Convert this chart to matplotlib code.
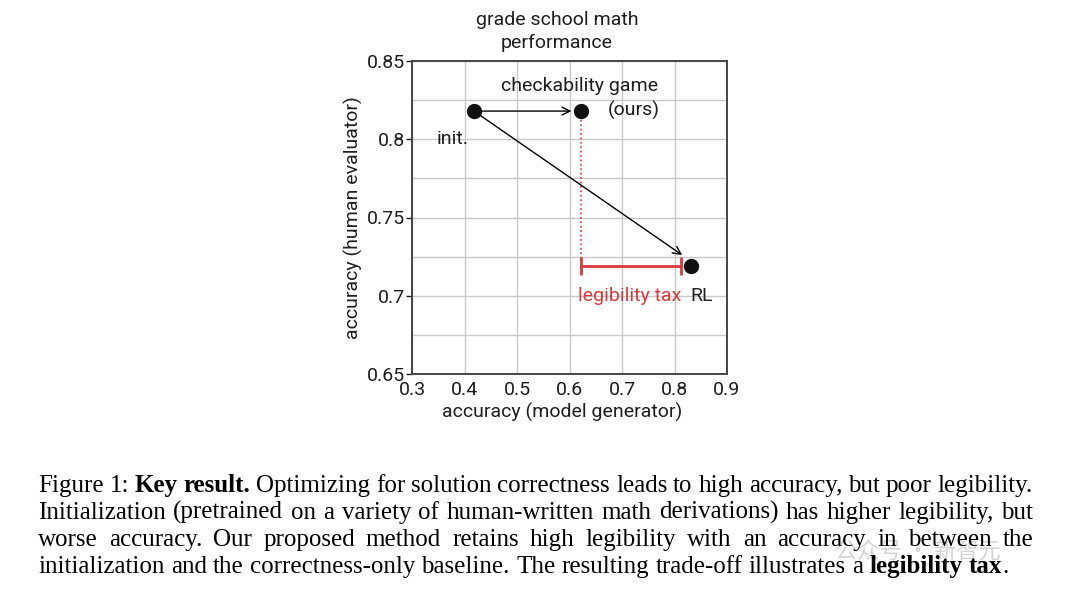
from matplotlib import pyplot as plt
import numpy as np

# points
names = ['init.', 'checkability game\n(ours)', 'RL']
gen_acc = [0.418, 0.621, 0.831]     # accuracy (model generator)
hum_acc = [0.818, 0.818, 0.719]     # accuracy (human evaluator)
tax_y = 0.719
tax_x = [0.621, 0.812]

xticks = [0.3, 0.4, 0.5, 0.6, 0.7, 0.8, 0.9]
yticks = [0.65, 0.7, 0.75, 0.8, 0.85]
ytick_labels = ['0.65', '0.7', '0.75', '0.8', '0.85']

caption = [
    [('Figure 1: ', False), ('Key result.', True),
     (' Optimizing for solution correctness leads to high accuracy, but poor legibility.', False)],
    [('Initialization (pretrained on a variety of human-written math derivations) has higher legibility, but', False)],
    [('worse accuracy.  Our proposed method retains high legibility with an accuracy in between the', False)],
    [('initialization and the correctness-only baseline. The resulting trade-off illustrates a ', False),
     ('legibility tax', True), ('.', False)],
]

W, H = 1080, 600
fig = plt.figure(figsize=(W/100, H/100), dpi=100)
plt.rcParams['font.family'] = ['Roboto', 'DejaVu Sans']
ax = fig.add_axes([412/W, 1-374/H, 315/W, 313/H])

red = '#d83a3a'
ink = '#1e1e1e'
fsz = 14
ax.set_xlim(0.3, 0.9)
ax.set_ylim(0.65, 0.85)
ax.set_xticks(xticks)
ax.set_xticklabels([str(v) for v in xticks])
ax.set_yticks(yticks)
ax.set_yticklabels(ytick_labels)
ax.set_yticks(np.arange(0.675, 0.85, 0.05), minor=True)
ax.grid(True, which='both', color='#c8c8c8', lw=1)
ax.set_axisbelow(True)
ax.tick_params(axis='x', length=0, pad=5, labelsize=fsz, colors=ink)
ax.tick_params(axis='y', which='major', length=4.5, width=1, labelsize=fsz, colors=ink, pad=0.5)
ax.tick_params(axis='y', which='minor', length=0)
for s in ax.spines.values():
    s.set_color('#444444')
    s.set_linewidth(1.4)

# legibility tax bar and dotted drop line
ax.plot([gen_acc[1], gen_acc[1]], [hum_acc[1], tax_y], ls=':', color=red, lw=1.2, zorder=2)
ax.plot(tax_x, [tax_y, tax_y], color=red, lw=2, marker='|', ms=13, mew=2, zorder=3)

# arrows
ax.annotate('', xy=(gen_acc[1]-0.012, hum_acc[1]), xytext=(gen_acc[0], hum_acc[0]),
            arrowprops=dict(arrowstyle='->', color='black', lw=1, mutation_scale=14))
ax.annotate('', xy=(gen_acc[2]-0.012, hum_acc[2]+0.006), xytext=(gen_acc[0], hum_acc[0]),
            arrowprops=dict(arrowstyle='->', color='black', lw=1, mutation_scale=14))

ax.plot(gen_acc, hum_acc, 'o', color='#111111', ms=10, ls='none', zorder=5)

ax.text(0.347, 0.800, names[0], fontsize=fsz, ha='left', va='center', color=ink)
ax.text(0.62, 0.834, names[1].split('\n')[0], fontsize=fsz, ha='center', va='center', color=ink)
ax.text(0.723, 0.8185, names[1].split('\n')[1], fontsize=fsz, ha='center', va='center', color=ink)
ax.text(0.83, 0.7, names[2], fontsize=fsz, ha='left', va='center', color=ink)
ax.text(0.616, 0.7, 'legibility tax', fontsize=fsz, ha='left', va='center', color=red)

ax.text(0.46, 1.03, 'grade school math\nperformance', transform=ax.transAxes, fontsize=fsz,
        color=ink, ha='center', va='bottom', linespacing=1.3)
ax.set_xlabel('accuracy (model generator)', fontsize=fsz, color=ink)
ax.xaxis.set_label_coords(0.476, -0.093)
ax.set_ylabel('accuracy (human evaluator)', fontsize=fsz, color=ink, labelpad=3)

# caption, justified like the paper
renderer = fig.canvas.get_renderer()
x0, x1 = 38, 1033
ys = [492, 519, 546, 573]

def measure(s, bold, fs):
    t = fig.text(0, 0, s, fontsize=fs, family='Liberation Serif',
                 fontweight='bold' if bold else 'normal')
    w = t.get_window_extent(renderer).width
    t.remove()
    return w

def split_words(line):
    words = []
    prev_space = True
    for seg, bold in line:
        parts = seg.split(' ')
        for j, p in enumerate(parts):
            if p == '':
                continue
            if j == 0 and words and not prev_space:
                words[-1].append((p, bold))
            else:
                words.append([(p, bold)])
        prev_space = seg.endswith(' ')
    return words

# pick a size so the second line sets almost naturally
nat = sum(measure(p, b, 15) for w in split_words(caption[1]) for p, b in w)
nat += (len(split_words(caption[1])) - 1) * (measure('a a', False, 15) - measure('aa', False, 15))
fs = 15 * (x1 - x0) / nat * 0.99

space = measure('a a', False, fs) - measure('aa', False, fs)
for i, line in enumerate(caption):
    words = split_words(line)
    widths = [sum(measure(p, b, fs) for p, b in w) for w in words]
    last = i == len(caption) - 1
    gap = space if last else (x1 - x0 - sum(widths)) / (len(words) - 1)
    x = x0
    for w, wd in zip(words, widths):
        xx = x
        for p, b in w:
            fig.text(xx/W, 1-ys[i]/H, p, fontsize=fs, family='Liberation Serif',
                     fontweight='bold' if b else 'normal', va='baseline', ha='left', color='black')
            xx += measure(p, b, fs)
        x += wd + gap

# watermark
fig.text(835/W, 1-552/H, '公众号 · 新智元', fontsize=16, color='#aaaaaa', alpha=0.5,
         family=['Noto Sans CJK SC', 'DejaVu Sans'], va='center', ha='left', zorder=0)

fig.savefig('out.png', dpi=100)
